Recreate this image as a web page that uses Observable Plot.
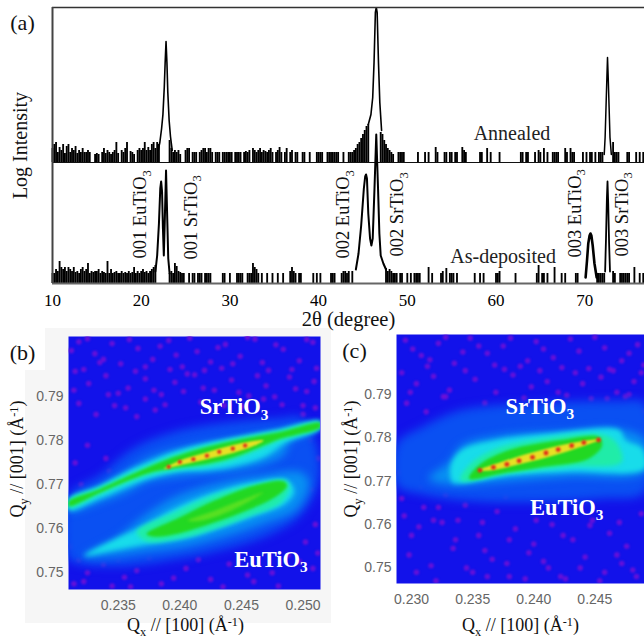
<!DOCTYPE html>
<html><head><meta charset="utf-8">
<script src="https://cdn.jsdelivr.net/npm/d3@7"></script>
<script src="https://cdn.jsdelivr.net/npm/@observablehq/plot@0.6"></script>
<style>
html,body{margin:0;padding:0;background:#fff}
#page{position:relative;width:644px;height:638px;overflow:hidden}
#grayb{position:absolute;left:25px;top:328px;width:306px;height:295px;background:#f6f6f6}
#whiteb{position:absolute;left:0;top:328px;width:45px;height:42px;background:#fff}
.heat g[aria-label="dot"]{filter:blur(1px)}
</style></head><body><div id="page"><div id="grayb"></div><div id="whiteb"></div></div>
<script>
// ---------- panel (a): heights of the noise spikes, one value every 0.2 degree
const noiseStart = 10, noiseStep = 0.2;
const annealedNoise = [
 14,18,20,10,15,12,18,9,16,18, 10,14,12,16,9,12,10,14,10,10, 12,10,0,0,8,9,8,0,10,14, 9,12,10,8,10,12,20,9,0,12, 10,14,20,0,11,10,8,0,12,14,
 12,14,20,12,15,12,18,20,14,20, 18,0,0,0,0,0,22,14,10,12, 10,12,8,0,0,12,14,14,0,10, 10,10,0,10,12,14,14,10,14,14, 10,0,10,10,10,0,10,10,10,10,
 10,10,0,10,10,10,10,0,10,11, 10,12,0,14,12,10,12,14,10,12, 11,10,12,14,10,0,10,12,15,10, 0,10,14,0,10,12,0,10,10,0, 0,10,10,0,0,10,0,0,0,10,
 10,10,10,0,0,10,10,10,10,10, 10,10,0,0,10,0,0,10,10,10, 12,14,18,20,24,28,32,36,38,0, 0,0,0,0,0,30,28,22,18,14, 12,10,8,0,0,10,10,10,10,0,
 0,0,0,0,0,0,10,0,0,0, 10,0,10,0,0,0,15,10,0,0, 0,10,10,0,10,10,0,10,10,0, 0,15,12,10,0,0,0,0,0,0, 0,10,10,0,0,14,0,10,0,0,
 0,0,10,0,0,0,0,0,0,0, 0,0,0,0,10,10,0,10,10,0, 0,0,10,0,12,10,0,14,0,10, 0,0,10,10,10,10,0,0,0,14, 10,0,14,10,10,0,0,0,0,10,
 0,10,0,10,10,0,10,0,10,10, 10,0,0,0,0,0,20,10,10,10, 0,0,0,0,10,10,0,0,0,10, 0,10,0,10,10];
const depositedNoise = [
 10,10,14,12,22,16,14,16,12,16, 14,12,16,11,12,10,14,16,12,14, 20,10,12,11,12,12,14,10,12,11, 10,22,10,14,10,11,12,10,10,12, 10,11,10,12,10,11,16,10,12,10,
 12,14,11,12,10,12,14,16,18,0, 0,0,0,0,0,0,10,12,10,20, 17,12,11,10,10,0,0,10,0,10, 10,0,10,10,10,0,10,10,10,10, 0,0,0,0,0,0,10,10,0,0,
 10,0,0,0,10,10,10,10,0,0, 10,10,10,20,16,14,10,0,10,0, 0,10,0,0,10,0,0,10,0,0, 10,0,0,0,12,16,12,10,0,10, 10,0,0,0,0,0,0,10,0,10,
 0,10,0,0,0,0,0,10,10,10, 0,0,0,10,12,12,10,12,0,12, 0,0,0,0,0,0,0,0,0,0, 0,0,0,0,0,0,0,0,15,12, 14,12,10,10,10,0,10,10,0,0,
 10,0,10,0,10,10,10,10,0,0, 0,0,16,0,10,0,0,0,0,10, 12,0,15,0,10,10,10,0,10,0, 0,0,0,0,0,0,0,0,10,0, 0,10,0,10,0,0,0,0,0,0,
 10,10,12,0,0,0,0,0,0,0, 0,10,0,0,0,0,0,0,0,0, 0,0,0,10,18,0,10,10,0,10, 0,0,0,16,0,0,0,10,0,10, 0,0,0,0,0,10,10,0,0,0,
 0,0,0,0,0,0,0,10,10,10, 10,10,0,0,0,0,12,10,0,0, 10,10,10,10,10,10,0,0,16,0, 0,10,0,10,10];
const annealedOffset = 121, depositedOffset = 0;
// peak outlines: [2theta list, height list]
const annealedPeak001 = [[21.9,22.1,22.3,22.45,22.6,22.7,22.8,22.9,23.0,23.15,23.3,23.5],[12,20,34,48,75,100,121,100,70,42,26,12]];
const annealedPeak002 = [[45.6,45.9,46.1,46.25,46.4,46.5,46.6,46.75,46.9,47.1],[38,48,65,100,150,155,150,100,60,32]];
const annealedPeak003 = [[72.2,72.3,72.4,72.5,72.57,72.65,72.75,72.85,73.0],[8,25,55,85,105,85,55,25,8]];
const depositedPeak001 = [[21.6,21.8,22.0,22.15,22.25,22.35,22.45,22.55,22.65,22.8,22.95,23.05,23.2],[12,28,60,95,102,92,55,28,60,113,60,25,10]];
const depositedPeak002 = [[44.2,44.5,44.8,45.1,45.25,45.35,45.45,45.6,45.8,45.95,46.1,46.3,46.5,46.7,46.85,47.0,47.3,47.6],[14,30,58,95,107,109,105,70,45,38,45,95,149,95,50,28,20,14]];
const depositedPeak003Eu = [[70.1,70.25,70.4,70.55,70.65,70.75,70.9,71.1,71.35],[6,22,40,48,50,48,38,20,6]];
const depositedPeak003Sr = [[72.3,72.4,72.5,72.57,72.65,72.75,72.85],[12,45,85,102,80,40,12]];
const ticksA = [10,20,30,40,50,60,70];
const reflectionLabels = ["001 EuTiO_3","001 SrTiO_3","002 EuTiO_3","002 SrTiO_3","003 EuTiO_3","003 SrTiO_3"];
const reflectionTheta = [19.9,25.6,42.8,48.9,68.9,74.2];
const reflectionBase = [25,24,25,27,26,27];
const sampleLabels = ["Annealed","As-deposited"];
const sampleTheta = [61.8,60.8];
const sampleY = [150,27];

// ---------- panels (b), (c): intensity contours as [Qx],[Qy] and colour levels
const levelColors = ["#0a50f2","#0890f2","#18dcea","#20ecA8","#22d822","#e8e024","#58e022"];
const levelBlur = [5,4,2.5,2,1.5,1,1.5];
const bContours = [
 [0,[.2310,.2335,.2362,.2395,.2444,.2479,.2500,.2514,.2500,.2476,.2435,.2395,.2352,.2322,.2310],[.7675,.7721,.7782,.7820,.7843,.7850,.7850,.7729,.7637,.7591,.7553,.7530,.7515,.7519,.7530]],
 [1,[.2310,.2335,.2357,.2376,.2406,.2444,.2484,.2514,.2514,.2490,.2484,.2465,.2438,.2406,.2373,.2357,.2335,.2310],[.7652,.7690,.7729,.7763,.7786,.7801,.7816,.7835,.7830,.7797,.7767,.7744,.7729,.7721,.7706,.7683,.7660,.7640]],
 [1,[.2322,.2349,.2371,.2395,.2428,.2465,.2498,.2505,.2495,.2470,.2438,.2406,.2373,.2343],[.7538,.7580,.7629,.7671,.7702,.7721,.7729,.7706,.7645,.7614,.7584,.7561,.7549,.7538]],
 [2,[.2310,.2335,.2360,.2373,.2395,.2422,.2449,.2479,.2514,.2514,.2487,.2470,.2444,.2422,.2400,.2379,.2360,.2335,.2310],[.7668,.7698,.7735,.7750,.7775,.7795,.7810,.7825,.7845,.7828,.7797,.7765,.7742,.7733,.7730,.7717,.7698,.7668,.7642]],
 [2,[.2322,.2352,.2371,.2395,.2425,.2460,.2487,.2493,.2487,.2460,.2433,.2406,.2373,.2343],[.7538,.7583,.7607,.7645,.7680,.7706,.7710,.7686,.7660,.7629,.7603,.7580,.7565,.7549]],
 [3,[.2310,.2335,.2360,.2373,.2395,.2422,.2449,.2479,.2514,.2514,.2482,.2465,.2444,.2422,.2400,.2379,.2360,.2335,.2310],[.7665,.7694,.7726,.7742,.7767,.7790,.7807,.7822,.7842,.7830,.7801,.7780,.7757,.7742,.7735,.7725,.7708,.7678,.7648]],
 [3,[.2365,.2395,.2428,.2460,.2486,.2489,.2482,.2455,.2428,.2400,.2373],[.7593,.7636,.7676,.7700,.7710,.7695,.7660,.7628,.7600,.7578,.7572]],
 [4,[.2310,.2335,.2360,.2373,.2395,.2422,.2449,.2479,.2514,.2514,.2482,.2465,.2444,.2422,.2400,.2379,.2360,.2335,.2310],[.7662,.7690,.7722,.7738,.7763,.7786,.7803,.7818,.7840,.7831,.7805,.7786,.7763,.7748,.7740,.7730,.7712,.7682,.7652]],
 [4,[.2373,.2400,.2428,.2460,.2484,.2487,.2479,.2455,.2428,.2400,.2379],[.7588,.7626,.7664,.7698,.7708,.7698,.7675,.7642,.7614,.7590,.7582]],
 [6,[.2406,.2428,.2449,.2468,.2460,.2438,.2417],[.7618,.7641,.7664,.7683,.7668,.7637,.7618]],
 [5,[.2387,.2400,.2422,.2444,.2468,.2460,.2444,.2428,.2411,.2395],[.7736,.7755,.7774,.7791,.7801,.7788,.7773,.7762,.7751,.7741]]
];
const bRedQx = [.2391,.2400,.2411,.2422,.2432,.2443,.2453];
const bRedQy = [.7741,.7752,.7758,.7766,.7775,.7782,.7789];
const cContours = [
 [0,[.2288,.2309,.2341,.2401,.2470,.2491,.2491,.2456,.2401,.2347,.2309,.2288],[.7787,.7825,.7864,.7880,.7885,.7880,.7675,.7660,.7652,.7655,.7670,.7690]],
 [1,[.2331,.2341,.2374,.2429,.2470,.2491,.2491,.2429,.2374,.2333,.2314],[.7745,.7783,.7806,.7815,.7820,.7795,.7722,.7710,.7699,.7692,.7706]],
 [2,[.2333,.2332,.2341,.2369,.2412,.2470,.2475,.2489,.2491,.2429,.2380,.2336],[.7699,.7737,.7772,.7795,.7810,.7818,.7795,.7775,.7729,.7722,.7714,.7695]],
 [3,[.2340,.2347,.2369,.2407,.2456,.2467,.2472,.2429,.2380],[.7702,.7737,.7775,.7798,.7808,.7791,.7745,.7733,.7718]],
 [4,[.2347,.2355,.2380,.2423,.2453,.2456,.2445,.2407,.2374],[.7706,.7737,.7772,.7795,.7802,.7783,.7752,.7733,.7718]],
 [5,[.2355,.2374,.2401,.2429,.2455,.2434,.2412,.2385,.2366],[.7725,.7745,.7768,.7787,.7797,.7775,.7756,.7737,.7725]]
];
const cRedQx = [.2356,.2367,.2378,.2388,.2399,.2410,.2420,.2431,.2441,.2453];
const cRedQy = [.7725,.7732,.7739,.7747,.7755,.7765,.7773,.7782,.7789,.7795];
const bSpeckQx = [.2318,.2331,.2345,.2352,.2366,.2378,.2391,.2402,.2414,.2425,.2437,.2449,.2461,.2472,.2484,.2497,.2508,.2315,.2326,.2340,.2358,.2372,.2385,.2396,.2412,.2428,.2442,.2456,.2470,.2489,.2503,.2318,.2332,.2347,.2365,.2380,.2500,.2510,.2505,.2512,.2498,.2506,.2495,.2510,.2502,.2488,.2475,.2508,.2460,.2440,.2425,.2405,.2385,.2365,.2345,.2325,.2314,.2318,.2316,.2330,.2345,.2312,.2336,.2320,.2315,.2325,.2340,
 .2312,.2325,.2338,.2359,.2372,.2384,.2397,.2408,.2420,.2431,.2443,.2455,.2467,.2478,.2491,.2503,.2511,.2322,.2335,.2350,.2364,.2379,.2392,.2406,.2419,.2434,.2448,.2463,.2477,.2494,.2509,.2314,.2342,.2356,.2372,.2388,.2403,.2417,.2436,.2452,.2468,.2483,.2500,.2322,.2338,.2355,.2375,.2395,.2415,.2435,.2455,.2480,.2497,.2512,.2360,.2350,.2335,.2312,.2328,.2343];
const bSpeckQy = [.8025,.7998,.8021,.7975,.8010,.7985,.8028,.7968,.8003,.7979,.8019,.7992,.8031,.7960,.8008,.7982,.8024,.7958,.7930,.7948,.7920,.7941,.7905,.7933,.7950,.7915,.7938,.7902,.7925,.7945,.7912,.7885,.7860,.7880,.7855,.7870,.7860,.7875,.7800,.7760,.7735,.7690,.7650,.7610,.7570,.7540,.7500,.7510,.7480,.7520,.7485,.7510,.7475,.7505,.7470,.7500,.7475,.7530,.7590,.7620,.7575,.7640,.7660,.7700,.7750,.7790,.7760,
 .8005,.8032,.7985,.8030,.7968,.8015,.7995,.8033,.7960,.8012,.7975,.8035,.7978,.8018,.7962,.8030,.7965,.7962,.7978,.7908,.7958,.7915,.7962,.7952,.7920,.7965,.7910,.7948,.7900,.7918,.7935,.7915,.7905,.7875,.7895,.7882,.7912,.7888,.7880,.7878,.7895,.7882,.7880,.7480,.7520,.7490,.7535,.7488,.7530,.7468,.7495,.7470,.7525,.7545,.7468,.7530,.7600,.7560,.7680,.7730];
const cSpeckQx = [.2295,.2308,.2322,.2335,.2348,.2362,.2375,.2389,.2402,.2416,.2430,.2445,.2458,.2472,.2485,.2292,.2304,.2318,.2331,.2352,.2369,.2383,.2398,.2411,.2427,.2440,.2455,.2468,.2482,.2296,.2312,.2328,.2460,.2478,.2489,.2294,.2306,.2322,.2338,.2355,.2370,.2385,.2400,.2415,.2432,.2448,.2462,.2476,.2488,.2298,.2316,.2334,.2350,.2366,.2380,.2396,.2412,.2426,.2442,.2458,.2472,.2484,.2292,.2310,.2328,.2344,
 .2301,.2315,.2328,.2342,.2355,.2368,.2381,.2395,.2408,.2423,.2437,.2450,.2465,.2478,.2490,.2299,.2313,.2326,.2344,.2360,.2376,.2392,.2405,.2420,.2434,.2447,.2462,.2475,.2488,.2300,.2318,.2336,.2358,.2380,.2402,.2424,.2446,.2470,.2304,.2320,.2345,.2362,.2378,.2393,.2408,.2422,.2438,.2454,.2468,.2481,.2290,.2308,.2325,.2342,.2360,.2377];
const cSpeckQy = [.8025,.7990,.8018,.7972,.8030,.7995,.8012,.7965,.8022,.7985,.8028,.7960,.8008,.7978,.8015,.7950,.7925,.7942,.7910,.7935,.7905,.7945,.7918,.7930,.7898,.7925,.7940,.7905,.7930,.7880,.7860,.7895,.7890,.7900,.7860,.7620,.7595,.7640,.7610,.7575,.7630,.7590,.7555,.7600,.7565,.7610,.7580,.7550,.7625,.7530,.7505,.7545,.7490,.7520,.7480,.7535,.7500,.7475,.7525,.7490,.7510,.7480,.7660,.7640,.7670,.7645,
 .8005,.7980,.8032,.7998,.8012,.7968,.8030,.7978,.8005,.7962,.8000,.8032,.7955,.7995,.7968,.7905,.7965,.7895,.7955,.7880,.7958,.7892,.7955,.7905,.7950,.7890,.7958,.7895,.7950,.7575,.7610,.7565,.7605,.7565,.7610,.7575,.7598,.7605,.7490,.7470,.7500,.7480,.7510,.7475,.7515,.7480,.7500,.7470,.7530,.7495,.7720,.7690,.7605,.7690,.7540,.7665];
const ticksBx = [.235,.240,.245,.250], ticksCx = [.230,.235,.240,.245];
const ticksQy = [.75,.76,.77,.78,.79];
const compoundLabels = ["SrTiO_3","EuTiO_3"];
const bLabelQx = [.2444,.2474], bLabelQy = [.7877,.7530];
const cLabelQx = [.2405,.2427], cLabelQy = [.7872,.7639];

const serif = '"Liberation Serif"', sans = '"Liberation Sans"';

function expandMarkup(svg){
  svg.querySelectorAll("text").forEach(t=>{
    const s=t.textContent;
    if(!/[_^]/.test(s)) return;
    t.textContent="";
    const re=/([_^])(\{[^}]*\}|.)|([^_^]+)/g; let m, pending=0;
    const fs=parseFloat(t.closest("[font-size]").getAttribute("font-size"));
    while((m=re.exec(s))){
      const ts=document.createElementNS("http://www.w3.org/2000/svg","tspan");
      if(m[3]!==undefined){
        ts.textContent=m[3];
        if(pending) ts.setAttribute("dy",-pending);
        pending=0;
      } else {
        const up=m[1]==="^", d=fs*(up?-0.32:0.24);
        ts.textContent=m[2].replace(/[{}]/g,"");
        ts.setAttribute("font-size",fs*0.68);
        ts.setAttribute("dy",d-pending); pending=d;
      }
      t.appendChild(ts);
    }
  });
  return svg;
}
function place(svg,left,top){
  svg.style.position="absolute";svg.style.left=left+"px";svg.style.top=top+"px";
  svg.style.overflow="visible";svg.style.background="transparent";
  document.getElementById("page").appendChild(expandMarkup(svg));
}
const spikeRows = (heights,offset)=>heights.map((h,i)=>({t:noiseStart+i*noiseStep,y1:offset,y2:offset+h})).filter(d=>d.y2>d.y1);
const peakRows = ([ts,hs],offset)=>ts.map((t,i)=>({t,y:offset+hs[i]}));
const peakLine=(p,off,w)=>Plot.line(peakRows(p,off),{x:"t",y:"y",stroke:"#000",strokeWidth:w,clip:true});
const centered={textAnchor:"middle",lineAnchor:"middle"};

place(Plot.plot({
  width:644,height:330,marginLeft:52,marginRight:0,marginTop:7,marginBottom:47,
  x:{domain:[10,76.74]},y:{domain:[0,276],axis:null},
  style:{fontFamily:serif,color:"#000"},
  marks:[
    Plot.ruleX(spikeRows(annealedNoise,annealedOffset),{x:"t",y1:"y1",y2:"y2",stroke:"#000",strokeWidth:1.85}),
    Plot.ruleX(spikeRows(depositedNoise,depositedOffset),{x:"t",y1:"y1",y2:"y2",stroke:"#000",strokeWidth:1.85}),
    Plot.ruleY([annealedOffset],{stroke:"#111",strokeWidth:1.2}),
    peakLine(annealedPeak001,annealedOffset,1.6),
    peakLine(annealedPeak002,annealedOffset,1.6),
    peakLine(annealedPeak003,annealedOffset,1.5),
    peakLine(depositedPeak001,depositedOffset,2),
    peakLine(depositedPeak002,depositedOffset,2),
    peakLine(depositedPeak003Eu,depositedOffset,2.6),
    peakLine(depositedPeak003Sr,depositedOffset,1.8),
    Plot.ruleY([276],{stroke:"#333",strokeWidth:1.5}),
    Plot.ruleY([0],{stroke:"#666",strokeWidth:2}),
    Plot.ruleX([10],{stroke:"#444",strokeWidth:2}),
    Plot.axisX({ticks:ticksA,tickSize:0,tickPadding:10,fontSize:17,fontFamily:serif,label:null}),
    Plot.text(reflectionLabels,{x:(d,i)=>reflectionTheta[i],y:(d,i)=>reflectionBase[i],rotate:-90,textAnchor:"start",fontSize:18.5,fontFamily:serif,fill:"#111"}),
    Plot.text(sampleLabels,{x:(d,i)=>sampleTheta[i],y:(d,i)=>sampleY[i],fontSize:20,fontFamily:serif,fill:"#222"}),
    Plot.text(["Log Intensity"],{...centered,frameAnchor:"left",dx:-32,rotate:-90,fontSize:20,fontFamily:serif,fill:"#111"}),
    Plot.text(["2θ (degree)"],{...centered,frameAnchor:"bottom",dy:36,fontSize:20.5,fontFamily:serif,fill:"#111"}),
    Plot.text(["(a)"],{...centered,frameAnchor:"top-left",dx:-30,dy:15,fontSize:22,fontFamily:serif,fill:"#111"})
  ]
}),0,0);

function heat(o){
  const svg = Plot.plot({
    className:"heat",
    width:o.w,height:313,marginLeft:o.ml,marginRight:o.mr,marginTop:o.mt,marginBottom:o.mb,
    x:{domain:o.xd},y:{domain:o.yd},
    style:{fontFamily:sans,color:"#666"},
    marks:[
      Plot.frame({fill:"#1212ea",stroke:"none"}),
      Plot.dot(o.sx,{x:d=>d,y:(d,i)=>o.sy[i],r:2.8,fill:"#7210d6",fillOpacity:.85,clip:true}),
      ...o.contours.map(([lvl,qx,qy])=>Plot.line(qx.map((x,i)=>({x,y:qy[i]})),{x:"x",y:"y",fill:levelColors[lvl],stroke:"none",curve:"catmull-rom-closed",clip:true})),
      Plot.dot(o.rx,{x:d=>d,y:(d,i)=>o.ry[i],r:o.rr,fill:"#e02a1a",clip:true}),
      Plot.axisX({ticks:o.xt,tickFormat:d=>d.toFixed(3),tickSize:0,tickPadding:o.xpad,fontSize:14,fill:"#666",label:null}),
      Plot.axisY({ticks:ticksQy,tickFormat:d=>d.toFixed(2),tickSize:0,tickPadding:5,fontSize:14,fill:"#666",label:null}),
      Plot.text(compoundLabels,{x:(d,i)=>o.lx[i],y:(d,i)=>o.ly[i],fill:"#fff",fontWeight:"bold",fontSize:22.5,fontFamily:serif}),
      Plot.text(["Q_x // [100] (Å^{-1})"],{...centered,frameAnchor:"bottom",dx:o.qxdx,dy:o.qxdy,fontSize:18,fontFamily:serif,fill:"#111"}),
      Plot.text(["Q_y // [001] (Å^{-1})"],{...centered,frameAnchor:"left",dx:o.qydx,dy:o.qydy,rotate:-90,fontSize:18,fontFamily:serif,fill:"#111"}),
      Plot.text([o.tag],{...centered,frameAnchor:"top-left",dx:o.tagdx,dy:o.tagdy,fontSize:22,fontFamily:serif,fill:"#111"})
    ]
  });
  svg.querySelectorAll('g[aria-label="line"]').forEach((g,i)=>{g.style.filter=`blur(${levelBlur[o.contours[i][0]]}px)`;});
  return svg;
}
place(heat({w:335,ml:68,mr:15,mt:11,mb:49,xd:[.23096,.25142],yd:[.7462,.8037],
  sx:bSpeckQx,sy:bSpeckQy,contours:bContours,rx:bRedQx,ry:bRedQy,rr:2.1,
  xt:ticksBx,xpad:11,lx:bLabelQx,ly:bLabelQy,tag:"(b)",tagdx:-46,tagdy:16,
  qxdx:-9,qxdy:36,qydx:-51,qydy:-4}),0,325);
place(heat({w:309,ml:61,mr:0,mt:9,mb:55,xd:[.22877,.24906],yd:[.7464,.80384],
  sx:cSpeckQx,sy:cSpeckQy,contours:cContours,rx:cRedQx,ry:cRedQy,rr:2.4,
  xt:ticksCx,xpad:11,lx:cLabelQx,ly:cLabelQy,tag:"(c)",tagdx:-42,tagdy:16,
  qxdx:0,qxdy:42,qydx:-45,qydy:0}),335,325);
</script></body></html>
